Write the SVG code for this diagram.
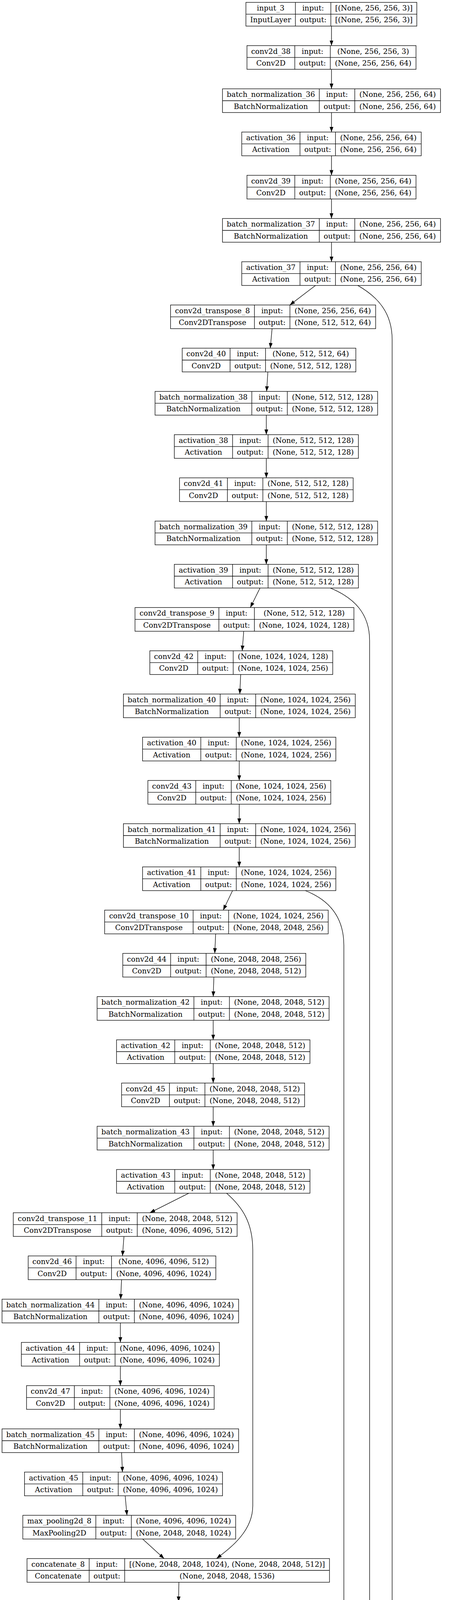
<svg xmlns="http://www.w3.org/2000/svg" width="1210" height="7488" viewBox="0 0 1210 7488">
<style>
text{font-family:"DejaVu Serif","Liberation Serif",serif;font-size:18.67px;text-anchor:middle;fill:#000}
.b{fill:none;stroke:#000;stroke-width:1.33}
.e{fill:none;stroke:#000;stroke-width:1.33;marker-end:url(#ah)}
</style>
<defs>
<marker id="ah" markerUnits="userSpaceOnUse" viewBox="0 0 13.3 9.6" markerWidth="13.3" markerHeight="9.6" refX="13.3" refY="4.8" orient="auto"><path d="M0,0L13.3,4.8L0,9.6z" fill="#000"/></marker>
</defs>
<rect width="1210" height="7488" fill="#fff"/>
<g id="edges">
<path class="e" d="M848,66.8L848,116.8"/>
<path class="e" d="M848,177.5L848,227.4"/>
<path class="e" d="M848,288.1L848,338.1"/>
<path class="e" d="M848,398.8L848,448.7"/>
<path class="e" d="M848,509.4L848,559.4"/>
<path class="e" d="M848,620.1L848,670.1"/>
<path class="e" d="M807.1,730.8L741.5,780.7"/>
<path class="e" d="M696,841.4L691.4,891.4"/>
<path class="e" d="M685.2,952.1L682.1,1002"/>
<path class="e" d="M681.3,1062.7L681.3,1112.7"/>
<path class="e" d="M681.3,1173.4L681.3,1223.4"/>
<path class="e" d="M681.3,1284.1L681.3,1334"/>
<path class="e" d="M681.3,1394.7L681.3,1444.7"/>
<path class="e" d="M665.1,1505.4L640.4,1555.3"/>
<path class="e" d="M623.5,1616L619.6,1666"/>
<path class="e" d="M615.7,1726.7L613.4,1776.7"/>
<path class="e" d="M612,1837.4L612,1887.3"/>
<path class="e" d="M612,1948L612,1998"/>
<path class="e" d="M612,2058.7L612,2108.6"/>
<path class="e" d="M612,2169.3L612,2219.3"/>
<path class="e" d="M594.9,2280L571,2330"/>
<path class="e" d="M551.7,2390.7L549.4,2440.6"/>
<path class="e" d="M547.1,2501.3L545.5,2551.3"/>
<path class="e" d="M545.4,2612L545.4,2661.9"/>
<path class="e" d="M545.4,2722.6L545.4,2772.6"/>
<path class="e" d="M545.4,2833.3L545.4,2883.3"/>
<path class="e" d="M545.4,2944L545.4,2993.9"/>
<path class="e" d="M483,3054.6L383.5,3104.6"/>
<path class="e" d="M317.1,3165.3L313.3,3215.2"/>
<path class="e" d="M311,3275.9L308.6,3325.9"/>
<path class="e" d="M307.9,3386.6L307.9,3436.6"/>
<path class="e" d="M307.9,3497.3L307.9,3547.2"/>
<path class="e" d="M307.9,3607.9L307.9,3657.9"/>
<path class="e" d="M311,3718.6L313.3,3768.5"/>
<path class="e" d="M320.2,3829.2L324.8,3879.2"/>
<path class="e" d="M365,3939.9L419.8,3989.9"/>
<path class="e" d="M457.6,4050.6L456.8,4100.5"/>
<path class="e" d="M467.6,4161.2L481.5,4211.2"/>
<path class="e" d="M498.5,4271.9L505.4,4321.8"/>
<path class="e" d="M513.1,4382.5L516.2,4432.5"/>
<path class="e" d="M521.6,4493.2L523.1,4543.2"/>
<path class="e" d="M524.7,4603.9L524.7,4653.8"/>
<path class="e" d="M527,4714.5L527,4764.5"/>
<path class="e" d="M527.8,4825.2L527.8,4875.1"/>
<path class="e" d="M528.5,4935.8L528.5,4985.8"/>
<path class="e" d="M538.6,5046.5L554.8,5096.5"/>
<path class="e" d="M571.8,5157.2L577.9,5207.1"/>
<path class="e" d="M588,5267.8L591,5317.8"/>
<path class="e" d="M596.5,5378.5L598,5428.4"/>
<path class="e" d="M601.1,5489.1L601.9,5539.1"/>
<path class="e" d="M603.4,5599.8L603.4,5649.8"/>
<path class="e" d="M604.2,5710.5L604.2,5760.4"/>
<path class="e" d="M605,5821.1L606.5,5871.1"/>
<path class="e" d="M617.3,5931.8L632.7,5981.7"/>
<path class="e" d="M650.5,6042.4L657.4,6092.4"/>
<path class="e" d="M666.7,6153.1L669.8,6203.1"/>
<path class="e" d="M675.2,6263.8L676.7,6313.7"/>
<path class="e" d="M681.3,6374.4L683.6,6424.4"/>
<path class="e" d="M690.6,6485.1L695.4,6535"/>
<path class="e" d="M740,6595.7L808,6645.7"/>
<path class="e" d="M848,6706.4L848,6756.4"/>
<path class="e" d="M848,6817.1L848,6867"/>
<path class="e" d="M848,6927.7L848,6977.7"/>
<path class="e" d="M848,7038.4L848,7088.3"/>
<path class="e" d="M848,7149L848,7199"/>
<path class="e" d="M848,7259.7L848,7309.7"/>
<path class="e" d="M848,7370.4L848,7420.3"/>
<path class="e" d="M915.5,730.8C966,760 1003.2,800 1003.2,870V6509C1003.2,6570 960,6615 916.7,6645.7"/>
<path class="e" d="M845,1505.4C905,1530 945.5,1570 945.5,1640V5595C945.5,5680 890,5735 804.5,5760.4"/>
<path class="e" d="M780.9,2280C845,2305 879.6,2350 879.6,2420V4711C879.6,4780 790,4850 717.6,4875.1"/>
<path class="e" d="M579.5,3054.6C620,3090 646.6,3130 646.6,3200V3855C646.6,3920 590,3962 554,3989.9"/>
</g>
<g id="input_3" transform="translate(629.1,6.1)"><rect class="b" width="437.2" height="60.7"/><path class="b" d="M0 30.35H437.2M126.5 0V60.7M217.3 0V60.7"/><text x="63.25" y="21">input_3</text><text x="63.25" y="51.35">InputLayer</text><text x="171.9" y="21">input:</text><text x="171.9" y="51.35">output:</text><text x="327.25" y="21">[(None, 256, 256, 3)]</text><text x="327.25" y="51.35">[(None, 256, 256, 3)]</text></g>
<g id="conv2d_38" transform="translate(631.75,116.76)"><rect class="b" width="432.5" height="60.7"/><path class="b" d="M0 30.35H432.5M122.4 0V60.7M213.2 0V60.7"/><text x="61.2" y="21">conv2d_38</text><text x="61.2" y="51.35">Conv2D</text><text x="167.8" y="21">input:</text><text x="167.8" y="51.35">output:</text><text x="322.85" y="21">(None, 256, 256, 3)</text><text x="322.85" y="51.35">(None, 256, 256, 64)</text></g>
<g id="batch_normalization_36" transform="translate(569.15,227.42)"><rect class="b" width="557.7" height="60.7"/><path class="b" d="M0 30.35H557.7M247.6 0V60.7M338.4 0V60.7"/><text x="123.8" y="21">batch_normalization_36</text><text x="123.8" y="51.35">BatchNormalization</text><text x="293" y="21">input:</text><text x="293" y="51.35">output:</text><text x="448.05" y="21">(None, 256, 256, 64)</text><text x="448.05" y="51.35">(None, 256, 256, 64)</text></g>
<g id="activation_36" transform="translate(618.45,338.08)"><rect class="b" width="459.1" height="60.7"/><path class="b" d="M0 30.35H459.1M149 0V60.7M239.8 0V60.7"/><text x="74.5" y="21">activation_36</text><text x="74.5" y="51.35">Activation</text><text x="194.4" y="21">input:</text><text x="194.4" y="51.35">output:</text><text x="349.45" y="21">(None, 256, 256, 64)</text><text x="349.45" y="51.35">(None, 256, 256, 64)</text></g>
<g id="conv2d_39" transform="translate(631.75,448.74)"><rect class="b" width="432.5" height="60.7"/><path class="b" d="M0 30.35H432.5M122.4 0V60.7M213.2 0V60.7"/><text x="61.2" y="21">conv2d_39</text><text x="61.2" y="51.35">Conv2D</text><text x="167.8" y="21">input:</text><text x="167.8" y="51.35">output:</text><text x="322.85" y="21">(None, 256, 256, 64)</text><text x="322.85" y="51.35">(None, 256, 256, 64)</text></g>
<g id="batch_normalization_37" transform="translate(569.15,559.4)"><rect class="b" width="557.7" height="60.7"/><path class="b" d="M0 30.35H557.7M247.6 0V60.7M338.4 0V60.7"/><text x="123.8" y="21">batch_normalization_37</text><text x="123.8" y="51.35">BatchNormalization</text><text x="293" y="21">input:</text><text x="293" y="51.35">output:</text><text x="448.05" y="21">(None, 256, 256, 64)</text><text x="448.05" y="51.35">(None, 256, 256, 64)</text></g>
<g id="activation_37" transform="translate(618.45,670.06)"><rect class="b" width="459.1" height="60.7"/><path class="b" d="M0 30.35H459.1M149 0V60.7M239.8 0V60.7"/><text x="74.5" y="21">activation_37</text><text x="74.5" y="51.35">Activation</text><text x="194.4" y="21">input:</text><text x="194.4" y="51.35">output:</text><text x="349.45" y="21">(None, 256, 256, 64)</text><text x="349.45" y="51.35">(None, 256, 256, 64)</text></g>
<g id="conv2d_transpose_8" transform="translate(436.35,780.72)"><rect class="b" width="524.6" height="60.7"/><path class="b" d="M0 30.35H524.6M214.5 0V60.7M305.3 0V60.7"/><text x="107.25" y="21">conv2d_transpose_8</text><text x="107.25" y="51.35">Conv2DTranspose</text><text x="259.9" y="21">input:</text><text x="259.9" y="51.35">output:</text><text x="414.95" y="21">(None, 256, 256, 64)</text><text x="414.95" y="51.35">(None, 512, 512, 64)</text></g>
<g id="conv2d_40" transform="translate(466.15,891.38)"><rect class="b" width="444.2" height="60.7"/><path class="b" d="M0 30.35H444.2M122.4 0V60.7M213.2 0V60.7"/><text x="61.2" y="21">conv2d_40</text><text x="61.2" y="51.35">Conv2D</text><text x="167.8" y="21">input:</text><text x="167.8" y="51.35">output:</text><text x="328.7" y="21">(None, 512, 512, 64)</text><text x="328.7" y="51.35">(None, 512, 512, 128)</text></g>
<g id="batch_normalization_38" transform="translate(396.6,1002.04)"><rect class="b" width="569.4" height="60.7"/><path class="b" d="M0 30.35H569.4M247.6 0V60.7M338.4 0V60.7"/><text x="123.8" y="21">batch_normalization_38</text><text x="123.8" y="51.35">BatchNormalization</text><text x="293" y="21">input:</text><text x="293" y="51.35">output:</text><text x="453.9" y="21">(None, 512, 512, 128)</text><text x="453.9" y="51.35">(None, 512, 512, 128)</text></g>
<g id="activation_38" transform="translate(445.95,1112.7)"><rect class="b" width="470.8" height="60.7"/><path class="b" d="M0 30.35H470.8M149 0V60.7M239.8 0V60.7"/><text x="74.5" y="21">activation_38</text><text x="74.5" y="51.35">Activation</text><text x="194.4" y="21">input:</text><text x="194.4" y="51.35">output:</text><text x="355.3" y="21">(None, 512, 512, 128)</text><text x="355.3" y="51.35">(None, 512, 512, 128)</text></g>
<g id="conv2d_41" transform="translate(459.25,1223.36)"><rect class="b" width="444.2" height="60.7"/><path class="b" d="M0 30.35H444.2M122.4 0V60.7M213.2 0V60.7"/><text x="61.2" y="21">conv2d_41</text><text x="61.2" y="51.35">Conv2D</text><text x="167.8" y="21">input:</text><text x="167.8" y="51.35">output:</text><text x="328.7" y="21">(None, 512, 512, 128)</text><text x="328.7" y="51.35">(None, 512, 512, 128)</text></g>
<g id="batch_normalization_39" transform="translate(396.6,1334.02)"><rect class="b" width="569.4" height="60.7"/><path class="b" d="M0 30.35H569.4M247.6 0V60.7M338.4 0V60.7"/><text x="123.8" y="21">batch_normalization_39</text><text x="123.8" y="51.35">BatchNormalization</text><text x="293" y="21">input:</text><text x="293" y="51.35">output:</text><text x="453.9" y="21">(None, 512, 512, 128)</text><text x="453.9" y="51.35">(None, 512, 512, 128)</text></g>
<g id="activation_39" transform="translate(445.95,1444.68)"><rect class="b" width="470.8" height="60.7"/><path class="b" d="M0 30.35H470.8M149 0V60.7M239.8 0V60.7"/><text x="74.5" y="21">activation_39</text><text x="74.5" y="51.35">Activation</text><text x="194.4" y="21">input:</text><text x="194.4" y="51.35">output:</text><text x="355.3" y="21">(None, 512, 512, 128)</text><text x="355.3" y="51.35">(None, 512, 512, 128)</text></g>
<g id="conv2d_transpose_9" transform="translate(345.4,1555.34)"><rect class="b" width="560" height="60.7"/><path class="b" d="M0 30.35H560M214.5 0V60.7M305.3 0V60.7"/><text x="107.25" y="21">conv2d_transpose_9</text><text x="107.25" y="51.35">Conv2DTranspose</text><text x="259.9" y="21">input:</text><text x="259.9" y="51.35">output:</text><text x="432.65" y="21">(None, 512, 512, 128)</text><text x="432.65" y="51.35">(None, 1024, 1024, 128)</text></g>
<g id="conv2d_42" transform="translate(383.35,1666)"><rect class="b" width="467.9" height="60.7"/><path class="b" d="M0 30.35H467.9M122.4 0V60.7M213.2 0V60.7"/><text x="61.2" y="21">conv2d_42</text><text x="61.2" y="51.35">Conv2D</text><text x="167.8" y="21">input:</text><text x="167.8" y="51.35">output:</text><text x="340.55" y="21">(None, 1024, 1024, 128)</text><text x="340.55" y="51.35">(None, 1024, 1024, 256)</text></g>
<g id="batch_normalization_40" transform="translate(315.7,1776.66)"><rect class="b" width="593.1" height="60.7"/><path class="b" d="M0 30.35H593.1M247.6 0V60.7M338.4 0V60.7"/><text x="123.8" y="21">batch_normalization_40</text><text x="123.8" y="51.35">BatchNormalization</text><text x="293" y="21">input:</text><text x="293" y="51.35">output:</text><text x="465.75" y="21">(None, 1024, 1024, 256)</text><text x="465.75" y="51.35">(None, 1024, 1024, 256)</text></g>
<g id="activation_40" transform="translate(364.65,1887.32)"><rect class="b" width="494.5" height="60.7"/><path class="b" d="M0 30.35H494.5M149 0V60.7M239.8 0V60.7"/><text x="74.5" y="21">activation_40</text><text x="74.5" y="51.35">Activation</text><text x="194.4" y="21">input:</text><text x="194.4" y="51.35">output:</text><text x="367.15" y="21">(None, 1024, 1024, 256)</text><text x="367.15" y="51.35">(None, 1024, 1024, 256)</text></g>
<g id="conv2d_43" transform="translate(378.35,1997.98)"><rect class="b" width="467.9" height="60.7"/><path class="b" d="M0 30.35H467.9M122.4 0V60.7M213.2 0V60.7"/><text x="61.2" y="21">conv2d_43</text><text x="61.2" y="51.35">Conv2D</text><text x="167.8" y="21">input:</text><text x="167.8" y="51.35">output:</text><text x="340.55" y="21">(None, 1024, 1024, 256)</text><text x="340.55" y="51.35">(None, 1024, 1024, 256)</text></g>
<g id="batch_normalization_41" transform="translate(315.7,2108.64)"><rect class="b" width="593.1" height="60.7"/><path class="b" d="M0 30.35H593.1M247.6 0V60.7M338.4 0V60.7"/><text x="123.8" y="21">batch_normalization_41</text><text x="123.8" y="51.35">BatchNormalization</text><text x="293" y="21">input:</text><text x="293" y="51.35">output:</text><text x="465.75" y="21">(None, 1024, 1024, 256)</text><text x="465.75" y="51.35">(None, 1024, 1024, 256)</text></g>
<g id="activation_41" transform="translate(364.65,2219.3)"><rect class="b" width="494.5" height="60.7"/><path class="b" d="M0 30.35H494.5M149 0V60.7M239.8 0V60.7"/><text x="74.5" y="21">activation_41</text><text x="74.5" y="51.35">Activation</text><text x="194.4" y="21">input:</text><text x="194.4" y="51.35">output:</text><text x="367.15" y="21">(None, 1024, 1024, 256)</text><text x="367.15" y="51.35">(None, 1024, 1024, 256)</text></g>
<g id="conv2d_transpose_10" transform="translate(267.65,2329.96)"><rect class="b" width="571.9" height="60.7"/><path class="b" d="M0 30.35H571.9M226.4 0V60.7M317.2 0V60.7"/><text x="113.2" y="21">conv2d_transpose_10</text><text x="113.2" y="51.35">Conv2DTranspose</text><text x="271.8" y="21">input:</text><text x="271.8" y="51.35">output:</text><text x="444.55" y="21">(None, 1024, 1024, 256)</text><text x="444.55" y="51.35">(None, 2048, 2048, 256)</text></g>
<g id="conv2d_44" transform="translate(314.1,2440.62)"><rect class="b" width="468.2" height="60.7"/><path class="b" d="M0 30.35H468.2M122.4 0V60.7M213.2 0V60.7"/><text x="61.2" y="21">conv2d_44</text><text x="61.2" y="51.35">Conv2D</text><text x="167.8" y="21">input:</text><text x="167.8" y="51.35">output:</text><text x="340.7" y="21">(None, 2048, 2048, 256)</text><text x="340.7" y="51.35">(None, 2048, 2048, 512)</text></g>
<g id="batch_normalization_42" transform="translate(248.45,2551.28)"><rect class="b" width="593.4" height="60.7"/><path class="b" d="M0 30.35H593.4M247.6 0V60.7M338.4 0V60.7"/><text x="123.8" y="21">batch_normalization_42</text><text x="123.8" y="51.35">BatchNormalization</text><text x="293" y="21">input:</text><text x="293" y="51.35">output:</text><text x="465.9" y="21">(None, 2048, 2048, 512)</text><text x="465.9" y="51.35">(None, 2048, 2048, 512)</text></g>
<g id="activation_42" transform="translate(298.1,2661.94)"><rect class="b" width="494.8" height="60.7"/><path class="b" d="M0 30.35H494.8M149 0V60.7M239.8 0V60.7"/><text x="74.5" y="21">activation_42</text><text x="74.5" y="51.35">Activation</text><text x="194.4" y="21">input:</text><text x="194.4" y="51.35">output:</text><text x="367.3" y="21">(None, 2048, 2048, 512)</text><text x="367.3" y="51.35">(None, 2048, 2048, 512)</text></g>
<g id="conv2d_45" transform="translate(311.05,2772.6)"><rect class="b" width="468.2" height="60.7"/><path class="b" d="M0 30.35H468.2M122.4 0V60.7M213.2 0V60.7"/><text x="61.2" y="21">conv2d_45</text><text x="61.2" y="51.35">Conv2D</text><text x="167.8" y="21">input:</text><text x="167.8" y="51.35">output:</text><text x="340.7" y="21">(None, 2048, 2048, 512)</text><text x="340.7" y="51.35">(None, 2048, 2048, 512)</text></g>
<g id="batch_normalization_43" transform="translate(248.45,2883.26)"><rect class="b" width="593.4" height="60.7"/><path class="b" d="M0 30.35H593.4M247.6 0V60.7M338.4 0V60.7"/><text x="123.8" y="21">batch_normalization_43</text><text x="123.8" y="51.35">BatchNormalization</text><text x="293" y="21">input:</text><text x="293" y="51.35">output:</text><text x="465.9" y="21">(None, 2048, 2048, 512)</text><text x="465.9" y="51.35">(None, 2048, 2048, 512)</text></g>
<g id="activation_43" transform="translate(298.1,2993.92)"><rect class="b" width="494.8" height="60.7"/><path class="b" d="M0 30.35H494.8M149 0V60.7M239.8 0V60.7"/><text x="74.5" y="21">activation_43</text><text x="74.5" y="51.35">Activation</text><text x="194.4" y="21">input:</text><text x="194.4" y="51.35">output:</text><text x="367.3" y="21">(None, 2048, 2048, 512)</text><text x="367.3" y="51.35">(None, 2048, 2048, 512)</text></g>
<g id="conv2d_transpose_11" transform="translate(33.95,3104.58)"><rect class="b" width="572.6" height="60.7"/><path class="b" d="M0 30.35H572.6M226.4 0V60.7M317.2 0V60.7"/><text x="113.2" y="21">conv2d_transpose_11</text><text x="113.2" y="51.35">Conv2DTranspose</text><text x="271.8" y="21">input:</text><text x="271.8" y="51.35">output:</text><text x="444.9" y="21">(None, 2048, 2048, 512)</text><text x="444.9" y="51.35">(None, 4096, 4096, 512)</text></g>
<g id="conv2d_46" transform="translate(72.15,3215.24)"><rect class="b" width="480" height="60.7"/><path class="b" d="M0 30.35H480M122.4 0V60.7M213.2 0V60.7"/><text x="61.2" y="21">conv2d_46</text><text x="61.2" y="51.35">Conv2D</text><text x="167.8" y="21">input:</text><text x="167.8" y="51.35">output:</text><text x="346.6" y="21">(None, 4096, 4096, 512)</text><text x="346.6" y="51.35">(None, 4096, 4096, 1024)</text></g>
<g id="batch_normalization_44" transform="translate(5.25,3325.9)"><rect class="b" width="605.2" height="60.7"/><path class="b" d="M0 30.35H605.2M247.6 0V60.7M338.4 0V60.7"/><text x="123.8" y="21">batch_normalization_44</text><text x="123.8" y="51.35">BatchNormalization</text><text x="293" y="21">input:</text><text x="293" y="51.35">output:</text><text x="471.8" y="21">(None, 4096, 4096, 1024)</text><text x="471.8" y="51.35">(None, 4096, 4096, 1024)</text></g>
<g id="activation_44" transform="translate(54.6,3436.56)"><rect class="b" width="506.6" height="60.7"/><path class="b" d="M0 30.35H506.6M149 0V60.7M239.8 0V60.7"/><text x="74.5" y="21">activation_44</text><text x="74.5" y="51.35">Activation</text><text x="194.4" y="21">input:</text><text x="194.4" y="51.35">output:</text><text x="373.2" y="21">(None, 4096, 4096, 1024)</text><text x="373.2" y="51.35">(None, 4096, 4096, 1024)</text></g>
<g id="conv2d_47" transform="translate(67.85,3547.22)"><rect class="b" width="480" height="60.7"/><path class="b" d="M0 30.35H480M122.4 0V60.7M213.2 0V60.7"/><text x="61.2" y="21">conv2d_47</text><text x="61.2" y="51.35">Conv2D</text><text x="167.8" y="21">input:</text><text x="167.8" y="51.35">output:</text><text x="346.6" y="21">(None, 4096, 4096, 1024)</text><text x="346.6" y="51.35">(None, 4096, 4096, 1024)</text></g>
<g id="batch_normalization_45" transform="translate(5.25,3657.88)"><rect class="b" width="605.2" height="60.7"/><path class="b" d="M0 30.35H605.2M247.6 0V60.7M338.4 0V60.7"/><text x="123.8" y="21">batch_normalization_45</text><text x="123.8" y="51.35">BatchNormalization</text><text x="293" y="21">input:</text><text x="293" y="51.35">output:</text><text x="471.8" y="21">(None, 4096, 4096, 1024)</text><text x="471.8" y="51.35">(None, 4096, 4096, 1024)</text></g>
<g id="activation_45" transform="translate(62.65,3768.54)"><rect class="b" width="506.6" height="60.7"/><path class="b" d="M0 30.35H506.6M149 0V60.7M239.8 0V60.7"/><text x="74.5" y="21">activation_45</text><text x="74.5" y="51.35">Activation</text><text x="194.4" y="21">input:</text><text x="194.4" y="51.35">output:</text><text x="373.2" y="21">(None, 4096, 4096, 1024)</text><text x="373.2" y="51.35">(None, 4096, 4096, 1024)</text></g>
<g id="max_pooling2d_8" transform="translate(58.4,3879.2)"><rect class="b" width="544.4" height="60.7"/><path class="b" d="M0 30.35H544.4M186.8 0V60.7M277.6 0V60.7"/><text x="93.4" y="21">max_pooling2d_8</text><text x="93.4" y="51.35">MaxPooling2D</text><text x="232.2" y="21">input:</text><text x="232.2" y="51.35">output:</text><text x="411" y="21">(None, 4096, 4096, 1024)</text><text x="411" y="51.35">(None, 2048, 2048, 1024)</text></g>
<g id="concatenate_8" transform="translate(69.15,3989.86)"><rect class="b" width="773.7" height="60.7"/><path class="b" d="M0 30.35H773.7M159 0V60.7M249.8 0V60.7"/><text x="79.5" y="21">concatenate_8</text><text x="79.5" y="51.35">Concatenate</text><text x="204.4" y="21">input:</text><text x="204.4" y="51.35">output:</text><text x="511.75" y="21">[(None, 2048, 2048, 1024), (None, 2048, 2048, 512)]</text><text x="511.75" y="51.35">(None, 2048, 2048, 1536)</text></g>
<g id="conv2d_48" transform="translate(217.5,4100.52)"><rect class="b" width="480.1" height="60.7"/><path class="b" d="M0 30.35H480.1M122.4 0V60.7M213.2 0V60.7"/><text x="61.2" y="21">conv2d_48</text><text x="61.2" y="51.35">Conv2D</text><text x="167.8" y="21">input:</text><text x="167.8" y="51.35">output:</text><text x="346.65" y="21">(None, 2048, 2048, 1536)</text><text x="346.65" y="51.35">(None, 2048, 2048, 512)</text></g>
<g id="batch_normalization_46" transform="translate(196.75,4211.18)"><rect class="b" width="593.4" height="60.7"/><path class="b" d="M0 30.35H593.4M247.6 0V60.7M338.4 0V60.7"/><text x="123.8" y="21">batch_normalization_46</text><text x="123.8" y="51.35">BatchNormalization</text><text x="293" y="21">input:</text><text x="293" y="51.35">output:</text><text x="465.9" y="21">(None, 2048, 2048, 512)</text><text x="465.9" y="51.35">(None, 2048, 2048, 512)</text></g>
<g id="activation_46" transform="translate(263.8,4321.84)"><rect class="b" width="494.8" height="60.7"/><path class="b" d="M0 30.35H494.8M149 0V60.7M239.8 0V60.7"/><text x="74.5" y="21">activation_46</text><text x="74.5" y="51.35">Activation</text><text x="194.4" y="21">input:</text><text x="194.4" y="51.35">output:</text><text x="367.3" y="21">(None, 2048, 2048, 512)</text><text x="367.3" y="51.35">(None, 2048, 2048, 512)</text></g>
<g id="conv2d_49" transform="translate(286,4432.5)"><rect class="b" width="468.2" height="60.7"/><path class="b" d="M0 30.35H468.2M122.4 0V60.7M213.2 0V60.7"/><text x="61.2" y="21">conv2d_49</text><text x="61.2" y="51.35">Conv2D</text><text x="167.8" y="21">input:</text><text x="167.8" y="51.35">output:</text><text x="340.7" y="21">(None, 2048, 2048, 512)</text><text x="340.7" y="51.35">(None, 2048, 2048, 512)</text></g>
<g id="batch_normalization_47" transform="translate(227.6,4543.16)"><rect class="b" width="593.4" height="60.7"/><path class="b" d="M0 30.35H593.4M247.6 0V60.7M338.4 0V60.7"/><text x="123.8" y="21">batch_normalization_47</text><text x="123.8" y="51.35">BatchNormalization</text><text x="293" y="21">input:</text><text x="293" y="51.35">output:</text><text x="465.9" y="21">(None, 2048, 2048, 512)</text><text x="465.9" y="51.35">(None, 2048, 2048, 512)</text></g>
<g id="activation_47" transform="translate(279.2,4653.82)"><rect class="b" width="494.8" height="60.7"/><path class="b" d="M0 30.35H494.8M149 0V60.7M239.8 0V60.7"/><text x="74.5" y="21">activation_47</text><text x="74.5" y="51.35">Activation</text><text x="194.4" y="21">input:</text><text x="194.4" y="51.35">output:</text><text x="367.3" y="21">(None, 2048, 2048, 512)</text><text x="367.3" y="51.35">(None, 2048, 2048, 512)</text></g>
<g id="max_pooling2d_9" transform="translate(261.85,4764.48)"><rect class="b" width="532.6" height="60.7"/><path class="b" d="M0 30.35H532.6M186.8 0V60.7M277.6 0V60.7"/><text x="93.4" y="21">max_pooling2d_9</text><text x="93.4" y="51.35">MaxPooling2D</text><text x="232.2" y="21">input:</text><text x="232.2" y="51.35">output:</text><text x="405.1" y="21">(None, 2048, 2048, 512)</text><text x="405.1" y="51.35">(None, 1024, 1024, 512)</text></g>
<g id="concatenate_9" transform="translate(147.1,4875.14)"><rect class="b" width="762.1" height="60.7"/><path class="b" d="M0 30.35H762.1M159 0V60.7M249.8 0V60.7"/><text x="79.5" y="21">concatenate_9</text><text x="79.5" y="51.35">Concatenate</text><text x="204.4" y="21">input:</text><text x="204.4" y="51.35">output:</text><text x="505.95" y="21">[(None, 1024, 1024, 512), (None, 1024, 1024, 256)]</text><text x="505.95" y="51.35">(None, 1024, 1024, 768)</text></g>
<g id="conv2d_50" transform="translate(295.35,4985.8)"><rect class="b" width="467.9" height="60.7"/><path class="b" d="M0 30.35H467.9M122.4 0V60.7M213.2 0V60.7"/><text x="61.2" y="21">conv2d_50</text><text x="61.2" y="51.35">Conv2D</text><text x="167.8" y="21">input:</text><text x="167.8" y="51.35">output:</text><text x="340.55" y="21">(None, 1024, 1024, 768)</text><text x="340.55" y="51.35">(None, 1024, 1024, 256)</text></g>
<g id="batch_normalization_48" transform="translate(270.2,5096.46)"><rect class="b" width="593.1" height="60.7"/><path class="b" d="M0 30.35H593.1M247.6 0V60.7M338.4 0V60.7"/><text x="123.8" y="21">batch_normalization_48</text><text x="123.8" y="51.35">BatchNormalization</text><text x="293" y="21">input:</text><text x="293" y="51.35">output:</text><text x="465.75" y="21">(None, 1024, 1024, 256)</text><text x="465.75" y="51.35">(None, 1024, 1024, 256)</text></g>
<g id="activation_48" transform="translate(338.05,5207.12)"><rect class="b" width="494.5" height="60.7"/><path class="b" d="M0 30.35H494.5M149 0V60.7M239.8 0V60.7"/><text x="74.5" y="21">activation_48</text><text x="74.5" y="51.35">Activation</text><text x="194.4" y="21">input:</text><text x="194.4" y="51.35">output:</text><text x="367.15" y="21">(None, 1024, 1024, 256)</text><text x="367.15" y="51.35">(None, 1024, 1024, 256)</text></g>
<g id="conv2d_51" transform="translate(360.95,5317.78)"><rect class="b" width="467.9" height="60.7"/><path class="b" d="M0 30.35H467.9M122.4 0V60.7M213.2 0V60.7"/><text x="61.2" y="21">conv2d_51</text><text x="61.2" y="51.35">Conv2D</text><text x="167.8" y="21">input:</text><text x="167.8" y="51.35">output:</text><text x="340.55" y="21">(None, 1024, 1024, 256)</text><text x="340.55" y="51.35">(None, 1024, 1024, 256)</text></g>
<g id="batch_normalization_49" transform="translate(303.35,5428.44)"><rect class="b" width="593.1" height="60.7"/><path class="b" d="M0 30.35H593.1M247.6 0V60.7M338.4 0V60.7"/><text x="123.8" y="21">batch_normalization_49</text><text x="123.8" y="51.35">BatchNormalization</text><text x="293" y="21">input:</text><text x="293" y="51.35">output:</text><text x="465.75" y="21">(None, 1024, 1024, 256)</text><text x="465.75" y="51.35">(None, 1024, 1024, 256)</text></g>
<g id="activation_49" transform="translate(354.95,5539.1)"><rect class="b" width="494.5" height="60.7"/><path class="b" d="M0 30.35H494.5M149 0V60.7M239.8 0V60.7"/><text x="74.5" y="21">activation_49</text><text x="74.5" y="51.35">Activation</text><text x="194.4" y="21">input:</text><text x="194.4" y="51.35">output:</text><text x="367.15" y="21">(None, 1024, 1024, 256)</text><text x="367.15" y="51.35">(None, 1024, 1024, 256)</text></g>
<g id="max_pooling2d_10" transform="translate(332.1,5649.76)"><rect class="b" width="544.2" height="60.7"/><path class="b" d="M0 30.35H544.2M198.7 0V60.7M289.5 0V60.7"/><text x="99.35" y="21">max_pooling2d_10</text><text x="99.35" y="51.35">MaxPooling2D</text><text x="244.1" y="21">input:</text><text x="244.1" y="51.35">output:</text><text x="416.85" y="21">(None, 1024, 1024, 256)</text><text x="416.85" y="51.35">(None, 512, 512, 256)</text></g>
<g id="concatenate_10" transform="translate(241.65,5760.42)"><rect class="b" width="725" height="60.7"/><path class="b" d="M0 30.35H725M170.5 0V60.7M261.3 0V60.7"/><text x="85.25" y="21">concatenate_10</text><text x="85.25" y="51.35">Concatenate</text><text x="215.9" y="21">input:</text><text x="215.9" y="51.35">output:</text><text x="493.15" y="21">[(None, 512, 512, 256), (None, 512, 512, 128)]</text><text x="493.15" y="51.35">(None, 512, 512, 384)</text></g>
<g id="conv2d_52" transform="translate(384.75,5871.08)"><rect class="b" width="444.2" height="60.7"/><path class="b" d="M0 30.35H444.2M122.4 0V60.7M213.2 0V60.7"/><text x="61.2" y="21">conv2d_52</text><text x="61.2" y="51.35">Conv2D</text><text x="167.8" y="21">input:</text><text x="167.8" y="51.35">output:</text><text x="328.7" y="21">(None, 512, 512, 384)</text><text x="328.7" y="51.35">(None, 512, 512, 128)</text></g>
<g id="batch_normalization_50" transform="translate(360.75,5981.74)"><rect class="b" width="569.4" height="60.7"/><path class="b" d="M0 30.35H569.4M247.6 0V60.7M338.4 0V60.7"/><text x="123.8" y="21">batch_normalization_50</text><text x="123.8" y="51.35">BatchNormalization</text><text x="293" y="21">input:</text><text x="293" y="51.35">output:</text><text x="453.9" y="21">(None, 512, 512, 128)</text><text x="453.9" y="51.35">(None, 512, 512, 128)</text></g>
<g id="activation_50" transform="translate(428.55,6092.4)"><rect class="b" width="470.8" height="60.7"/><path class="b" d="M0 30.35H470.8M149 0V60.7M239.8 0V60.7"/><text x="74.5" y="21">activation_50</text><text x="74.5" y="51.35">Activation</text><text x="194.4" y="21">input:</text><text x="194.4" y="51.35">output:</text><text x="355.3" y="21">(None, 512, 512, 128)</text><text x="355.3" y="51.35">(None, 512, 512, 128)</text></g>
<g id="conv2d_53" transform="translate(451.15,6203.06)"><rect class="b" width="444.2" height="60.7"/><path class="b" d="M0 30.35H444.2M122.4 0V60.7M213.2 0V60.7"/><text x="61.2" y="21">conv2d_53</text><text x="61.2" y="51.35">Conv2D</text><text x="167.8" y="21">input:</text><text x="167.8" y="51.35">output:</text><text x="328.7" y="21">(None, 512, 512, 128)</text><text x="328.7" y="51.35">(None, 512, 512, 128)</text></g>
<g id="batch_normalization_51" transform="translate(393.95,6313.72)"><rect class="b" width="569.4" height="60.7"/><path class="b" d="M0 30.35H569.4M247.6 0V60.7M338.4 0V60.7"/><text x="123.8" y="21">batch_normalization_51</text><text x="123.8" y="51.35">BatchNormalization</text><text x="293" y="21">input:</text><text x="293" y="51.35">output:</text><text x="453.9" y="21">(None, 512, 512, 128)</text><text x="453.9" y="51.35">(None, 512, 512, 128)</text></g>
<g id="activation_51" transform="translate(452.45,6424.38)"><rect class="b" width="470.8" height="60.7"/><path class="b" d="M0 30.35H470.8M149 0V60.7M239.8 0V60.7"/><text x="74.5" y="21">activation_51</text><text x="74.5" y="51.35">Activation</text><text x="194.4" y="21">input:</text><text x="194.4" y="51.35">output:</text><text x="355.3" y="21">(None, 512, 512, 128)</text><text x="355.3" y="51.35">(None, 512, 512, 128)</text></g>
<g id="max_pooling2d_11" transform="translate(439.6,6535.04)"><rect class="b" width="520.5" height="60.7"/><path class="b" d="M0 30.35H520.5M198.7 0V60.7M289.5 0V60.7"/><text x="99.35" y="21">max_pooling2d_11</text><text x="99.35" y="51.35">MaxPooling2D</text><text x="244.1" y="21">input:</text><text x="244.1" y="51.35">output:</text><text x="405" y="21">(None, 512, 512, 128)</text><text x="405" y="51.35">(None, 256, 256, 128)</text></g>
<g id="concatenate_11" transform="translate(491.25,6645.7)"><rect class="b" width="713.5" height="60.7"/><path class="b" d="M0 30.35H713.5M170.5 0V60.7M261.3 0V60.7"/><text x="85.25" y="21">concatenate_11</text><text x="85.25" y="51.35">Concatenate</text><text x="215.9" y="21">input:</text><text x="215.9" y="51.35">output:</text><text x="487.4" y="21">[(None, 256, 256, 128), (None, 256, 256, 64)]</text><text x="487.4" y="51.35">(None, 256, 256, 192)</text></g>
<g id="conv2d_54" transform="translate(625.9,6756.36)"><rect class="b" width="444.2" height="60.7"/><path class="b" d="M0 30.35H444.2M122.4 0V60.7M213.2 0V60.7"/><text x="61.2" y="21">conv2d_54</text><text x="61.2" y="51.35">Conv2D</text><text x="167.8" y="21">input:</text><text x="167.8" y="51.35">output:</text><text x="328.7" y="21">(None, 256, 256, 192)</text><text x="328.7" y="51.35">(None, 256, 256, 64)</text></g>
<g id="batch_normalization_52" transform="translate(569.15,6867.02)"><rect class="b" width="557.7" height="60.7"/><path class="b" d="M0 30.35H557.7M247.6 0V60.7M338.4 0V60.7"/><text x="123.8" y="21">batch_normalization_52</text><text x="123.8" y="51.35">BatchNormalization</text><text x="293" y="21">input:</text><text x="293" y="51.35">output:</text><text x="448.05" y="21">(None, 256, 256, 64)</text><text x="448.05" y="51.35">(None, 256, 256, 64)</text></g>
<g id="activation_52" transform="translate(618.45,6977.68)"><rect class="b" width="459.1" height="60.7"/><path class="b" d="M0 30.35H459.1M149 0V60.7M239.8 0V60.7"/><text x="74.5" y="21">activation_52</text><text x="74.5" y="51.35">Activation</text><text x="194.4" y="21">input:</text><text x="194.4" y="51.35">output:</text><text x="349.45" y="21">(None, 256, 256, 64)</text><text x="349.45" y="51.35">(None, 256, 256, 64)</text></g>
<g id="conv2d_55" transform="translate(631.75,7088.34)"><rect class="b" width="432.5" height="60.7"/><path class="b" d="M0 30.35H432.5M122.4 0V60.7M213.2 0V60.7"/><text x="61.2" y="21">conv2d_55</text><text x="61.2" y="51.35">Conv2D</text><text x="167.8" y="21">input:</text><text x="167.8" y="51.35">output:</text><text x="322.85" y="21">(None, 256, 256, 64)</text><text x="322.85" y="51.35">(None, 256, 256, 64)</text></g>
<g id="batch_normalization_53" transform="translate(569.15,7199)"><rect class="b" width="557.7" height="60.7"/><path class="b" d="M0 30.35H557.7M247.6 0V60.7M338.4 0V60.7"/><text x="123.8" y="21">batch_normalization_53</text><text x="123.8" y="51.35">BatchNormalization</text><text x="293" y="21">input:</text><text x="293" y="51.35">output:</text><text x="448.05" y="21">(None, 256, 256, 64)</text><text x="448.05" y="51.35">(None, 256, 256, 64)</text></g>
<g id="activation_53" transform="translate(618.45,7309.66)"><rect class="b" width="459.1" height="60.7"/><path class="b" d="M0 30.35H459.1M149 0V60.7M239.8 0V60.7"/><text x="74.5" y="21">activation_53</text><text x="74.5" y="51.35">Activation</text><text x="194.4" y="21">input:</text><text x="194.4" y="51.35">output:</text><text x="349.45" y="21">(None, 256, 256, 64)</text><text x="349.45" y="51.35">(None, 256, 256, 64)</text></g>
<g id="conv2d_56" transform="translate(631.75,7420.32)"><rect class="b" width="432.5" height="60.7"/><path class="b" d="M0 30.35H432.5M122.4 0V60.7M213.2 0V60.7"/><text x="61.2" y="21">conv2d_56</text><text x="61.2" y="51.35">Conv2D</text><text x="167.8" y="21">input:</text><text x="167.8" y="51.35">output:</text><text x="322.85" y="21">(None, 256, 256, 64)</text><text x="322.85" y="51.35">(None, 256, 256, 1)</text></g>
</svg>
